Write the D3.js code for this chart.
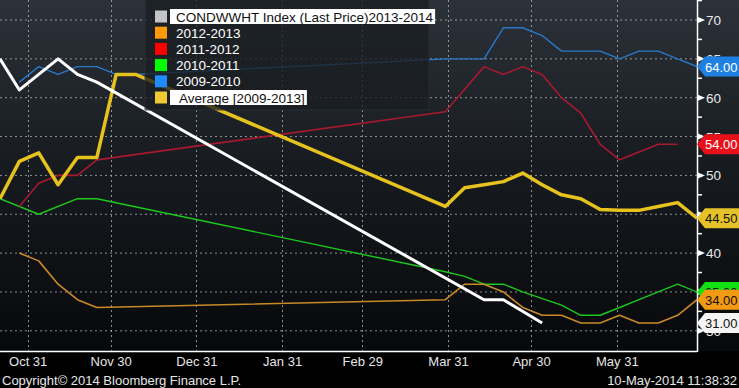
<!DOCTYPE html>
<html>
<head>
<meta charset="utf-8">
<script src="https://cdnjs.cloudflare.com/ajax/libs/d3/7.8.5/d3.min.js"></script>
<style>
  body { margin: 0; background: #000; }
  svg text { font-family: "Liberation Sans", Arial, sans-serif; }
</style>
</head>
<body>
<div id="chart"></div>
<script>
// weekly report dates on a leap-year season axis (fall 2011 -> spring 2012)
let weeks = ["10-21", "10-28", "11-04", "11-11", "11-18", "11-25", "12-02", "12-09",
             "03-30", "04-06", "04-13", "04-20", "04-27", "05-04", "05-11", "05-18",
             "05-25", "06-01", "06-08", "06-15", "06-22", "06-29"];

// good/excellent rating per season, null where there is no point
let s2013_2014 = [65, 61, 63, 65, 63, 62, null, null, null, null, 34, 34, null, 31, null, null, null, null, null, null, null, null];
let s2012_2013 = [null, 40, 39, 36, 34, 33, null, null, 34, 36, 36, 35, 33, 32, 32, 31, 31, 32, 31, 31, 32, 34];
let s2011_2012 = [null, 46, 49, 50, 50, 52, null, null, 58.2, null, 64, 63, 64, 63, 60, 58, 54, 52, 53, 54, 54, null];
let s2010_2011 = [47, null, 45, null, 47, 47, null, null, 37.6, 37, 36, 36, 35, null, 33.3, 32, 32, 33, 34, 35, 36, 35];
let s2009_2010 = [null, 62, 64, 63, 64, 64, 63, 63, 65, 65, 65, 69, 69, 68, 66, 66, 66, 65, 66, 66, 65, 64];
let average = [47, 51.8, 52.9, 48.8, 52.3, 52.3, 63, 63, 46, 48.4, 48.8, 49.2, 50.3, 48.8, 47.5, 47, 45.6, 45.5, 45.5, 46, 46.5, 44.5];

let seriesNames = ["CONDWWHT Index (Last Price)2013-2014", "2012-2013", "2011-2012", "2010-2011", "2009-2010", " Average [2009-2013]"];
let seriesValues = [s2013_2014, s2012_2013, s2011_2012, s2010_2011, s2009_2010, average];
let swatchColors = ["#c4c4c4", "#ff9a0a", "#ff0000", "#00ff00", "#1e8cff", "#f0c832"];
let lineColors = ["#ffffff", "#c98a26", "#a8182e", "#1cc81c", "#2a78c8", "#e6c21f"];
let lineWidths = [3, 1.6, 1.6, 1.4, 1.4, 3.5];
let tagColors = ["#f4f4f4", "#f39a14", "#e8101a", "#12e012", "#1e80e0", "#e6c22a"];
let tagText = ["#111", "#111", "#fff", "#111", "#fff", "#111"];

let tickDates = ["10-31", "11-30", "12-31", "01-31", "02-29", "03-31", "04-30", "05-31"];
let tickLabels = ["Oct 31", "Nov 30", "Dec 31", "Jan 31", "Feb 29", "Mar 31", "Apr 30", "May 31"];
let yGridTicks = [30, 35, 40, 45, 50, 55, 60, 65, 70];
let yMinorTicks = [30, 32.5, 35, 37.5, 40, 42.5, 45, 47.5, 50, 52.5, 55, 57.5, 60, 62.5, 65, 67.5, 70, 72.5];

let W = 739, H = 388, plotR = 697, plotB = 351;

// month-day string -> date on the season axis
function seasonDate(md) {
    let m = +md.slice(0, 2);
    return new Date(m >= 7 ? 2011 : 2012, m - 1, +md.slice(3, 5));
}

let x = d3.scaleTime()
    .domain([new Date(2011, 9, 21), new Date(2012, 5, 29)])
    .range([0, plotR]);
let y = d3.scaleLinear().domain([30, 70]).range([330.8, 20]);

let svg = d3.select("#chart").append("svg").attr("width", W).attr("height", H);
let defs = svg.append("defs");

//background gradient
let grad = defs.append("linearGradient").attr("id", "bg")
    .attr("x1", "0").attr("y1", "0").attr("x2", "0").attr("y2", "1");
grad.append("stop").attr("offset", "0%").attr("stop-color", "#2c3239");
grad.append("stop").attr("offset", "45%").attr("stop-color", "#181c21");
grad.append("stop").attr("offset", "100%").attr("stop-color", "#07080a");

defs.append("clipPath").attr("id", "plotclip")
    .append("rect").attr("x", 0).attr("y", 0).attr("width", plotR).attr("height", plotB);

svg.append("rect").attr("width", W).attr("height", plotB).attr("fill", "url(#bg)");

//dotted grid
let grid = svg.append("g");
grid.selectAll(".hg").data(yGridTicks).enter().append("line")
    .attr("x1", 0).attr("x2", plotR)
    .attr("y1", d => y(d)).attr("y2", d => y(d))
    .attr("stroke", "#aab0b6").attr("stroke-width", 1).attr("stroke-dasharray", "2,3").attr("opacity", 0.8);
grid.selectAll(".vg").data(tickDates).enter().append("line")
    .attr("x1", d => Math.round(x(seasonDate(d))) + 0.5).attr("x2", d => Math.round(x(seasonDate(d))) + 0.5)
    .attr("y1", 0).attr("y2", plotB)
    .attr("stroke", "#aab0b6").attr("stroke-width", 1).attr("stroke-dasharray", "2,3").attr("opacity", 0.8);

//series lines, blue first and white last
let line = d3.line().x(d => x(d[0])).y(d => y(d[1]));
let drawOrder = [4, 3, 2, 1, 5, 0];
let lines = svg.append("g").attr("clip-path", "url(#plotclip)");
drawOrder.forEach(function(i) {
    let pts = [];
    weeks.forEach(function(w, j) {
        if (seriesValues[i][j] != null) pts.push([seasonDate(w), seriesValues[i][j]]);
    });
    lines.append("path")
        .attr("d", line(pts))
        .attr("fill", "none")
        .attr("stroke", lineColors[i])
        .attr("stroke-width", lineWidths[i])
        .attr("stroke-linejoin", "round");
});

//legend box
let leg = svg.append("g");
leg.append("rect").attr("x", 145).attr("y", -2).attr("width", 284).attr("height", 112)
    .attr("fill", "#1a1e22").attr("opacity", 0.78).attr("stroke", "#2a3036");
seriesNames.forEach(function(name, i) {
    let cy = 16.5 + i * 16.2;
    leg.append("rect").attr("x", 155).attr("y", cy - 6).attr("width", 12).attr("height", 12)
        .attr("fill", swatchColors[i]);
    let highlight = (i == 0 || i == 5);
    let bgRect = leg.append("rect").attr("x", 170).attr("y", cy - 7.5).attr("height", 15)
        .attr("fill", highlight ? "#ffffff" : "none");
    let t = leg.append("text").attr("x", 176).attr("y", cy + 5)
        .attr("font-size", 13.5).attr("fill", highlight ? "#111" : "#ffffff")
        .attr("textLength", null)
        .style("white-space", "pre")
        .text(name);
    bgRect.attr("width", t.node().getComputedTextLength() + 8);
});

//right axis
let yAxis = svg.append("g").attr("transform", `translate(${plotR},0)`);
yAxis.append("line").attr("x1", 0.5).attr("x2", 0.5).attr("y1", 0).attr("y2", plotB + 1)
    .attr("stroke", "#fff").attr("stroke-width", 1.5);
yAxis.selectAll(".mt").data(yMinorTicks).enter().append("line")
    .attr("x1", 0).attr("x2", 5).attr("y1", d => y(d)).attr("y2", d => y(d))
    .attr("stroke", "#fff").attr("stroke-width", 1.5);
yAxis.selectAll(".tri").data(yGridTicks).enter().append("path")
    .attr("d", d => `M1,${y(d) - 3}L8,${y(d)}L1,${y(d) + 3}Z`)
    .attr("fill", "#fff");
yAxis.selectAll(".yl").data(yGridTicks).enter().append("text")
    .attr("x", 9).attr("y", d => y(d) + 5)
    .attr("font-size", 13.5).attr("fill", "#e8e8e8")
    .text(d => d);

//bottom axis
let xAxis = d3.axisBottom(x)
    .tickValues(tickDates.map(seasonDate))
    .tickFormat((d, i) => tickLabels[i])
    .tickSize(0).tickPadding(6);
let xg = svg.append("g").attr("transform", `translate(0,${plotB})`).call(xAxis);
xg.select(".domain").remove();
xg.selectAll("text").attr("font-size", 13).attr("fill", "#e6e6e6")
    .attr("font-family", "Liberation Sans, Arial, sans-serif");
svg.append("line").attr("x1", 0).attr("x2", plotR).attr("y1", plotB + 0.5).attr("y2", plotB + 0.5)
    .attr("stroke", "#fff").attr("stroke-width", 1.5);

//last value tags
let tagOrder = [4, 2, 5, 3, 1, 0];
tagOrder.forEach(function(i) {
    let vals = seriesValues[i].filter(v => v != null);
    let last = vals[vals.length - 1];
    let cy = y(last);
    svg.append("path")
        .attr("d", `M${plotR},${cy}L${plotR + 8},${cy - 10}L${W},${cy - 10}L${W},${cy + 10}L${plotR + 8},${cy + 10}Z`)
        .attr("fill", tagColors[i]);
    svg.append("text").attr("x", plotR + 8).attr("y", cy + 5)
        .attr("font-size", 13).attr("fill", tagText[i])
        .text(last.toFixed(2));
});

//footer
svg.append("text").attr("x", 2).attr("y", 385).attr("font-size", 13).attr("fill", "#e6e6e6")
    .text("Copyright\u00a9 2014 Bloomberg Finance L.P.");
svg.append("text").attr("x", 737).attr("y", 385).attr("font-size", 13).attr("fill", "#e6e6e6")
    .attr("text-anchor", "end")
    .text("10-May-2014 11:38:32");
</script>
</body>
</html>
